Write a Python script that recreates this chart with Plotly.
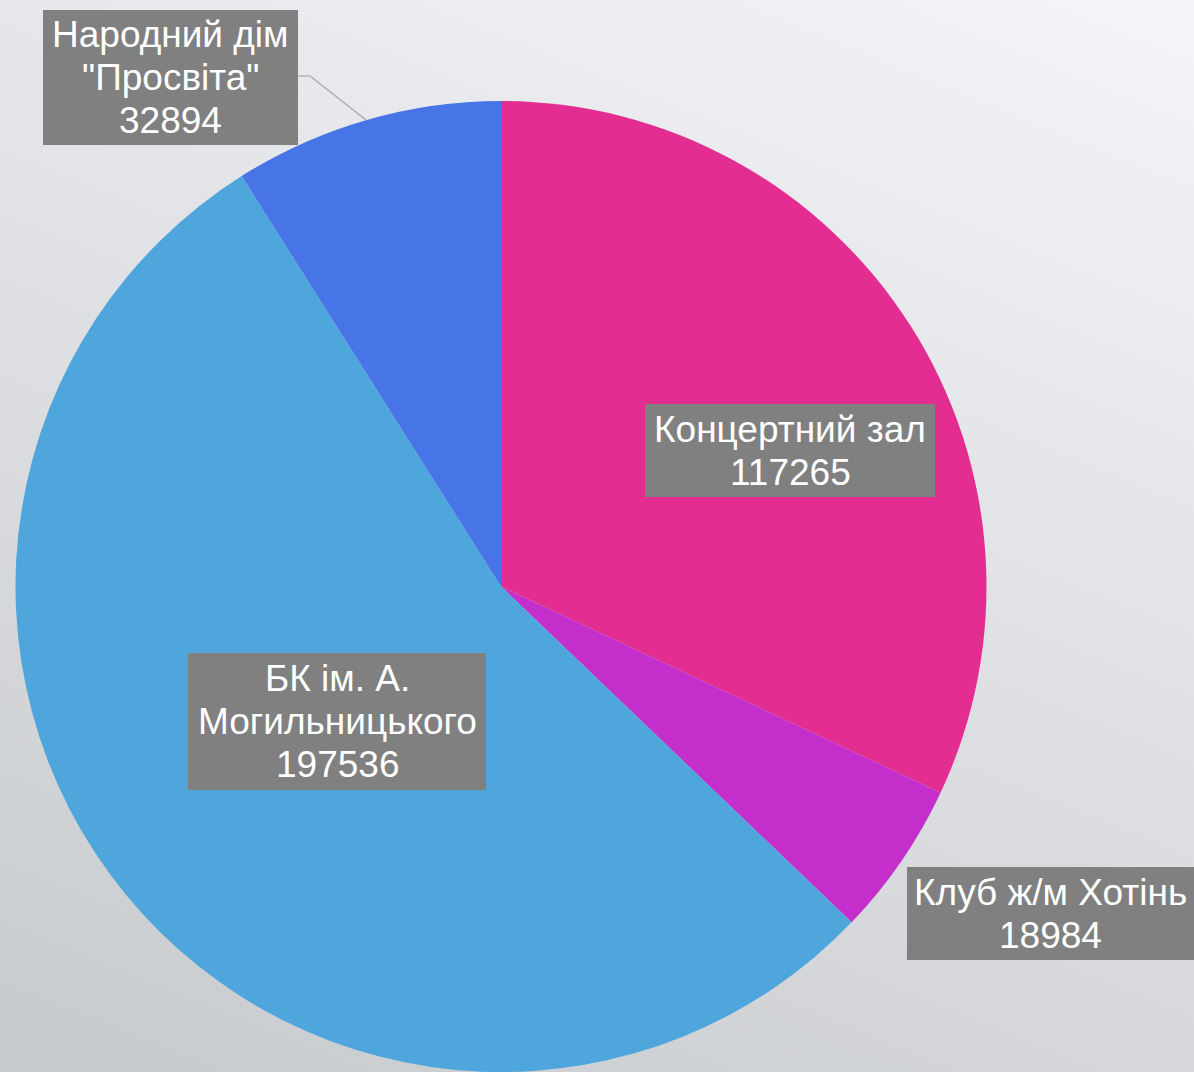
import base64
import plotly.graph_objects as go

# ---- data ----
labels = ["Концертний зал", "Клуб ж/м Хотінь", "БК ім. А. Могильницького", "Народний дім \"Просвіта\""]
values = [117265, 18984, 197536, 32894]
colors = ["#E32D91", "#C42FCC", "#4EA6DC", "#4775E7"]
label_lines = [
    ["Концертний зал", "117265"],
    ["Клуб ж/м Хотінь", "18984"],
    ["БК ім. А.", "Могильницького", "197536"],
    ["Народний дім", "\"Просвіта\"", "32894"],
]

W, H = 1194, 1072
# label box layout in pixels: (x0, x1, y0, y1)
label_boxes = [
    (645, 935, 404, 497),
    (907, 1194, 867, 960),
    (188, 486, 653, 790),
    (43, 298, 10, 145),
]
LINE_GAP = 43
FONT_SIZE = 37

fig = go.Figure()
fig.add_trace(go.Pie(
    labels=labels, values=values, sort=False, direction="clockwise", rotation=0,
    marker=dict(colors=colors, line=dict(width=0)),
    textinfo="none", showlegend=False,
    domain=dict(x=[14 / W, 988 / W], y=[0, 1 - 101 / H]),
))

# diagonal background gradient via an SVG image
gx, gy = 0.0109, -0.0268
vmin, vmax = 203.0, 245.0
n2 = gx * gx + gy * gy
x1, y1 = 0.0, float(H)
x2 = x1 + gx * (vmax - vmin) / n2
y2 = y1 + gy * (vmax - vmin) / n2
svg = (
    f'<svg xmlns="http://www.w3.org/2000/svg" width="{W}" height="{H}" viewBox="0 0 {W} {H}" preserveAspectRatio="none">'
    f'<defs><linearGradient id="g" gradientUnits="userSpaceOnUse" x1="{x1:.1f}" y1="{y1:.1f}" x2="{x2:.1f}" y2="{y2:.1f}">'
    '<stop offset="0" stop-color="rgb(199,202,205)"/><stop offset="1" stop-color="rgb(245,245,249)"/>'
    '</linearGradient></defs>'
    f'<rect x="0" y="0" width="{W}" height="{H}" fill="url(#g)"/></svg>'
)
src = "data:image/svg+xml;base64," + base64.b64encode(svg.encode()).decode()

shapes = []
annotations = []
for lines, (bx0, bx1, by0, by1) in zip(label_lines, label_boxes):
    shapes.append(dict(type="rect", xref="paper", yref="paper",
                       x0=bx0 / W, x1=bx1 / W, y0=1 - by1 / H, y1=1 - by0 / H,
                       fillcolor="#808080", line=dict(width=0), layer="above"))
    cx = (bx0 + bx1) / 2
    cy = (by0 + by1) / 2
    n = len(lines)
    for i, t in enumerate(lines):
        ly = cy + (i - (n - 1) / 2) * LINE_GAP
        annotations.append(dict(
            text=t, x=cx / W, y=1 - ly / H, xref="paper", yref="paper",
            xanchor="center", yanchor="middle", showarrow=False,
            font=dict(family="Liberation Sans, Arial", size=FONT_SIZE, color="white"),
        ))

# leader line for Народний дім
pts = [(298, 76), (310, 76), (366, 120)]
for (xa, ya), (xb, yb) in zip(pts[:-1], pts[1:]):
    shapes.append(dict(type="line", xref="paper", yref="paper",
                       x0=xa / W, y0=1 - ya / H, x1=xb / W, y1=1 - yb / H,
                       line=dict(color="#A6A6A6", width=1.2), layer="above"))

fig.update_layout(
    width=W, height=H, margin=dict(l=0, r=0, t=0, b=0),
    paper_bgcolor="#DEDFE2", plot_bgcolor="rgba(0,0,0,0)",
    shapes=shapes, annotations=annotations,
    images=[dict(source=src, xref="paper", yref="paper", x=0, y=1, sizex=1, sizey=1,
                 xanchor="left", yanchor="top", sizing="stretch", layer="below")],
)

fig.write_html("out.html", config={"displayModeBar": False},
               post_script="document.body.style.margin='0';document.body.style.overflow='hidden';")
